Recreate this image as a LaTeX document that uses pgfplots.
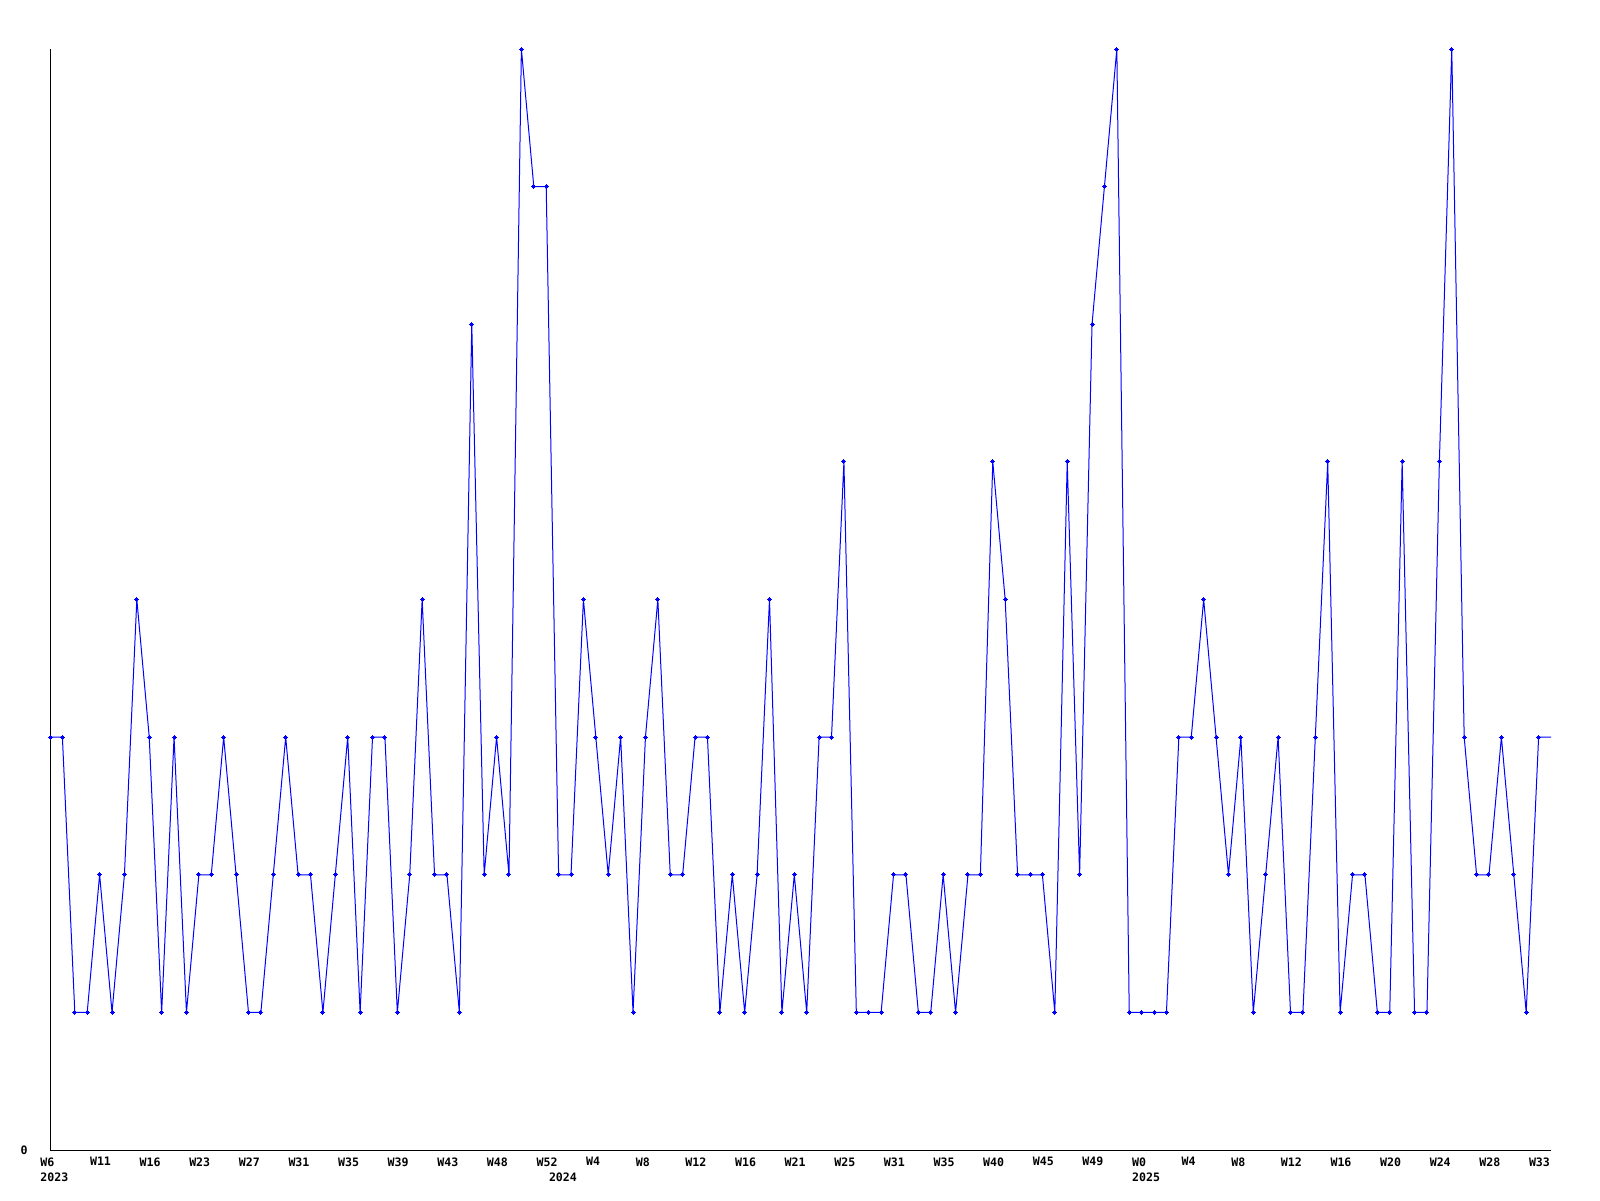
\documentclass[border=0pt]{standalone}
\usepackage{pgfplots}
\pgfplotsset{compat=1.18}
\usepackage{pgfplotstable}
\usepackage{fontspec}
\setmonofont{DejaVu Sans Mono}
\pgfdeclareplotmark{pluss}{%
  \pgfpathmoveto{\pgfqpoint{-\pgfplotmarksize}{0pt}}%
  \pgfpathlineto{\pgfqpoint{\pgfplotmarksize}{0pt}}%
  \pgfpathmoveto{\pgfqpoint{0pt}{-\pgfplotmarksize}}%
  \pgfpathlineto{\pgfqpoint{0pt}{\pgfplotmarksize}}%
  \pgfusepathqstroke
  \pgfpathrectangle{\pgfqpoint{-0.75pt}{-0.75pt}}{\pgfqpoint{1.5pt}{1.5pt}}%
  \pgfusepathqfill}
\pgfplotstableread{
x y
0 3
1 3
2 1
3 1
4 2
5 1
6 2
7 4
8 3
9 1
10 3
11 1
12 2
13 2
14 3
15 2
16 1
17 1
18 2
19 3
20 2
21 2
22 1
23 2
24 3
25 1
26 3
27 3
28 1
29 2
30 4
31 2
32 2
33 1
34 6
35 2
36 3
37 2
38 8
39 7
40 7
41 2
42 2
43 4
44 3
45 2
46 3
47 1
48 3
49 4
50 2
51 2
52 3
53 3
54 1
55 2
56 1
57 2
58 4
59 1
60 2
61 1
62 3
63 3
64 5
65 1
66 1
67 1
68 2
69 2
70 1
71 1
72 2
73 1
74 2
75 2
76 5
77 4
78 2
79 2
80 2
81 1
82 5
83 2
84 6
85 7
86 8
87 1
88 1
89 1
90 1
91 3
92 3
93 4
94 3
95 2
96 3
97 1
98 2
99 3
100 1
101 1
102 3
103 5
104 1
105 2
106 2
107 1
108 1
109 5
110 1
111 1
112 5
113 8
114 3
115 2
116 2
117 3
118 2
119 1
120 3
121 3
}\datatable
\begin{document}
\begin{tikzpicture}
\path[use as bounding box] (-25pt,-25pt) rectangle (775pt,575pt);
\begin{axis}[
  at={(0,0)}, anchor=south west,
  scale only axis,
  width=750.5pt, height=550.5pt,
  xmin=0, xmax=121, ymin=0, ymax=8,
  axis lines*=left,
  axis line style={black, line width=0.5pt},
  clip=false,
  xtick={0,4,...,120},
  xticklabels={W6,W11,W16,W23,W27,W31,W35,W39,W43,W48,W52,W4,W8,W12,W16,W21,W25,W31,W35,W40,W45,W49,W0,W4,W8,W12,W16,W20,W24,W28,W33},
  xtick style={draw=none},
  ytick style={draw=none},
  ytick={0}, yticklabels={0},
  xticklabel style={anchor=north west, inner sep=0pt, xshift=-5pt, yshift=-3.5pt, font=\fontsize{5.8}{7}\selectfont\ttfamily\bfseries},
  yticklabel style={anchor=east, inner sep=0pt, xshift=-11pt, font=\fontsize{5.8}{7}\selectfont\ttfamily\bfseries},
  extra x ticks={0,41,88},
  extra x tick labels={2023,2024,2025},
  extra x tick style={xticklabel style={yshift=-7.5pt}, tick style={draw=none}},
]
\addplot[color={rgb,255:red,0;green,0;blue,255}, line width=0.5pt, mark=pluss, mark size=1.25pt, mark options={line width=0.5pt}, mark indices={1,...,121}] table[x=x,y=y] {\datatable};
\end{axis}
\end{tikzpicture}
\end{document}
